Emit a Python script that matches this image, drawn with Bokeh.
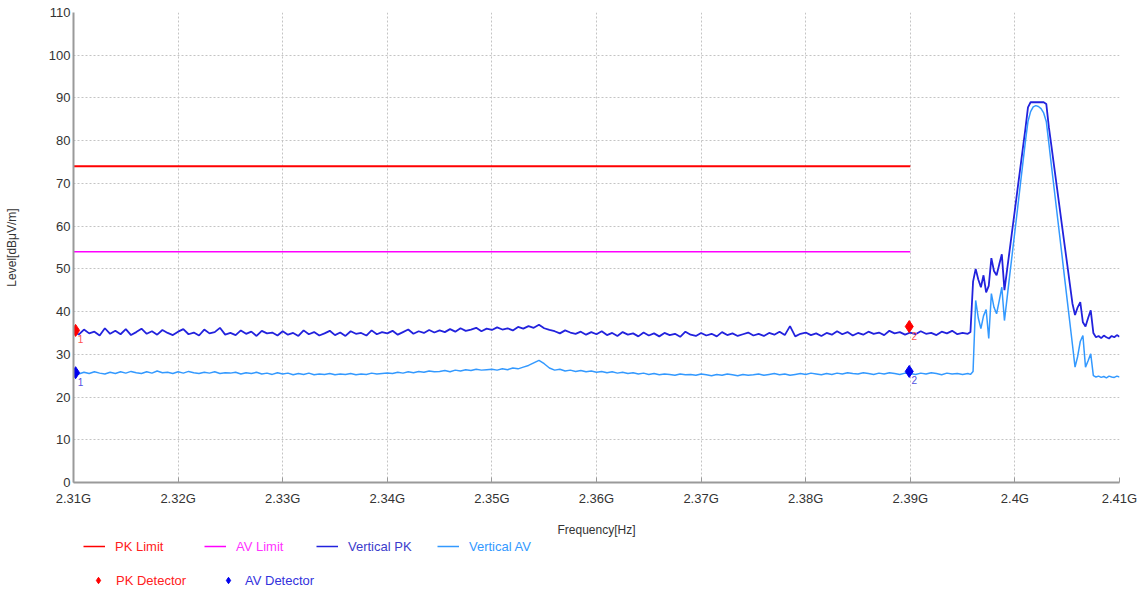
import numpy as np
from bokeh.plotting import figure
from bokeh.layouts import column
from bokeh.models import Range1d, FixedTicker, Legend, LegendItem, CustomJSTickFormatter
from bokeh.core.properties import value
from bokeh.embed import file_html
from bokeh.resources import INLINE

FONT = "Liberation Sans"

# ---------------- data ----------------
x_ticks = [2.31, 2.32, 2.33, 2.34, 2.35, 2.36, 2.37, 2.38, 2.39, 2.40, 2.41]
x_tick_labels = ["2.31G", "2.32G", "2.33G", "2.34G", "2.35G", "2.36G",
                 "2.37G", "2.38G", "2.39G", "2.4G", "2.41G"]
y_ticks = [0, 10, 20, 30, 40, 50, 60, 70, 80, 90, 100, 110]

sweep_start = 2.31      # GHz
coarse_step = 0.0005    # sweep points 2.31 .. 2.3955 GHz
fine_step = 0.00025     # sweep points 2.39575 .. 2.41 GHz

pk_coarse = [
    35.6, 34.6, 35.8, 34.9, 35.3, 34.4, 36.1, 34.8, 35.5, 34.7,
    35.9, 34.5, 35.2, 36.0, 34.8, 35.4, 34.6, 35.7, 35.0, 34.5,
    35.3, 35.9, 34.7, 35.1, 34.4, 35.8, 34.9, 35.2, 36.2, 34.6,
    35.0, 34.5, 35.6, 34.8, 35.3, 34.3, 35.5, 34.9, 35.1, 34.4,
    35.4, 34.6, 35.0, 34.3, 35.6, 34.7, 35.2, 34.4, 34.9, 35.5,
    34.5, 35.1, 34.3, 35.4, 34.8, 35.0, 34.4, 35.6, 34.7, 35.2,
    34.9, 35.5, 34.6, 35.2, 35.8, 34.8, 35.4, 35.0, 35.7, 35.1,
    35.6, 35.2, 35.9, 35.3, 36.1, 35.5, 35.8, 36.2, 35.4, 36.0,
    35.7, 36.3, 35.8, 36.1, 35.6, 36.4, 36.0, 36.6, 36.2, 36.9,
    36.1, 35.7, 35.4, 34.9, 35.6, 35.1, 34.8, 35.3, 34.6, 35.2,
    34.7, 35.4, 34.5, 35.0, 34.3, 35.2, 34.6, 34.9, 34.2, 35.1,
    34.4, 34.9, 34.2, 35.0, 34.5, 34.8, 34.1, 35.3, 34.6, 34.3,
    35.0, 34.4, 34.8, 34.2, 35.2, 34.5, 34.9, 34.3, 34.7, 35.1,
    34.4, 34.8, 34.3, 35.0, 34.6, 35.3, 34.5, 36.6, 34.2, 34.8,
    35.1, 34.5, 34.9, 34.3, 35.0, 34.6, 35.4, 34.7, 35.2, 34.4,
    35.0, 34.6, 35.3, 34.8, 35.1, 34.5, 35.5, 34.9, 35.2, 34.6,
    35.1, 34.7, 35.4, 34.8, 35.0, 34.5, 35.3, 34.9, 35.5, 34.7,
    35.0, 34.8,
]

av_coarse = [
    25.7, 25.4, 25.8, 25.5, 25.9, 25.6, 25.4, 25.8, 25.5, 25.9,
    25.6, 26.0, 25.7, 25.5, 25.9, 25.6, 26.1, 25.7, 25.8, 25.5,
    25.9, 25.6, 26.0, 25.7, 25.5, 25.8, 25.6, 25.9, 25.5, 25.7,
    25.6, 25.8, 25.4, 25.7, 25.5, 25.8, 25.4, 25.6, 25.3, 25.7,
    25.4, 25.6, 25.2, 25.5, 25.3, 25.6, 25.2, 25.4, 25.3, 25.5,
    25.2, 25.4, 25.3, 25.5, 25.2, 25.4, 25.3, 25.6, 25.4, 25.5,
    25.6, 25.5, 25.8, 25.6, 25.9, 25.7, 26.0, 25.8, 26.1, 25.9,
    26.0, 26.2, 25.9, 26.3, 26.1, 26.4, 26.2, 26.5, 26.3, 26.4,
    26.5, 26.3, 26.6, 26.4, 26.8, 26.6, 27.0, 27.4, 28.0, 28.6,
    27.8, 26.8, 26.3, 26.5, 26.1, 26.3, 26.0, 26.2, 25.9, 26.1,
    25.8, 26.0, 25.7, 25.9, 25.6, 25.8, 25.5, 25.7, 25.4, 25.6,
    25.3, 25.5, 25.2, 25.4, 25.3, 25.1, 25.4, 25.2, 25.3, 25.1,
    25.4, 25.2, 25.0, 25.3, 25.1, 25.4, 25.2, 25.0, 25.3, 25.1,
    25.2, 25.4, 25.1, 25.3, 25.5, 25.2, 25.4, 25.1, 25.3, 25.5,
    25.3, 25.6, 25.4, 25.2, 25.5, 25.3, 25.6, 25.4, 25.7, 25.5,
    25.4, 25.7, 25.5, 25.3, 25.6, 25.4, 25.7, 25.5, 25.3, 25.6,
    25.5, 25.3, 25.6, 25.4, 25.7, 25.5, 25.2, 25.6, 25.4, 25.5,
    25.3, 25.5,
]

pk_fine = [
    35.2, 47.0, 50.0, 47.5, 45.7, 48.5, 44.5, 46.0, 52.5, 49.5,
    48.5, 51.0, 53.4, 45.0, 49.7, 54.4, 59.1, 63.8, 68.6, 73.3,
    78.0, 82.7, 87.8, 89.0, 89.0, 89.0, 89.0, 89.0, 89.0, 88.6,
    83.1, 78.6, 74.0, 69.4, 64.8, 60.2, 55.6, 51.1, 46.5, 41.9,
    39.2, 41.0, 42.2, 37.5, 36.5, 38.5, 40.3, 35.0, 34.0, 34.3,
    33.8, 34.4, 34.0, 33.7, 34.3, 34.0, 34.5, 34.1,
]

av_fine = [
    25.3, 26.0, 42.6, 38.5, 36.0, 39.0, 40.5, 33.7, 44.2, 41.0,
    39.5, 42.5, 45.7, 37.9, 43.1, 48.4, 53.6, 58.8, 64.0, 69.3,
    74.5, 79.7, 84.5, 86.8, 87.9, 88.2, 88.0, 87.5, 86.5, 84.5,
    79.3, 74.0, 68.8, 63.6, 58.4, 53.2, 47.9, 42.7, 37.5, 32.3,
    27.0, 29.5, 33.0, 34.4, 27.0, 28.5, 30.1, 25.0, 24.7, 24.9,
    24.6, 24.8, 24.5, 24.9, 24.7, 24.6, 24.9, 24.7,
]

limit_freq = [2.31, 2.39]
pk_limit = [74, 74]
av_limit = [54, 54]

det_freq = [2.3102, 2.3899]
pk_det = [35.6, 36.5]
av_det = [25.7, 26.0]
det_labels = ["1", "2"]

coarse_freq = sweep_start + coarse_step * np.arange(len(pk_coarse))
fine_freq = coarse_freq[-1] + fine_step * np.arange(1, len(pk_fine) + 1)
freq = np.concatenate([coarse_freq, fine_freq])
pk = np.array(pk_coarse + pk_fine)
av = np.array(av_coarse + av_fine)

# ---------------- styles ----------------
C_PKL, C_AVL, C_PK, C_AV = "#ff0000", "#ff00ff", "#2222dd", "#3399ff"
C_PKD, C_AVD = "#ff0000", "#0000ee"

# ---------------- main figure ----------------
p = figure(width=1143, height=540,
           x_range=Range1d(2.31, 2.41), y_range=Range1d(0, 110),
           output_backend="svg", toolbar_location=None,
           min_border_left=73, min_border_right=24,
           min_border_top=12, min_border_bottom=58,
           background_fill_color="white", border_fill_color="white",
           outline_line_color=None)

p.xaxis.ticker = FixedTicker(ticks=x_ticks)
p.yaxis.ticker = FixedTicker(ticks=y_ticks)
p.xaxis.formatter = CustomJSTickFormatter(
    args=dict(tvals=x_ticks, tlabels=x_tick_labels),
    code="""
    let best = 0;
    for (let i = 0; i < tvals.length; i++) {
        if (Math.abs(tvals[i] - tick) < Math.abs(tvals[best] - tick)) best = i;
    }
    return tlabels[best];
    """)

p.grid.grid_line_color = "#c4c4c4"
p.grid.grid_line_dash = "2 2"
p.grid.grid_line_width = 1

for ax in (p.xaxis[0], p.yaxis[0]):
    ax.axis_line_color = "#9a9a9a"
    ax.axis_line_width = 2
    ax.major_label_text_font = FONT
    ax.major_label_text_font_size = "13px"
    ax.major_label_text_color = "#333333"
    ax.axis_label_text_font = FONT
    ax.axis_label_text_font_size = "12px"
    ax.axis_label_text_font_style = "normal"
    ax.axis_label_text_color = "#333333"
    ax.minor_tick_line_color = None

p.xaxis.major_tick_in = 5
p.xaxis.major_tick_out = 0
p.xaxis.major_tick_line_color = "#9a9a9a"
p.xaxis.major_label_standoff = 8
p.xaxis.axis_label = "Frequency[Hz]"
p.xaxis.axis_label_standoff = 14

p.yaxis.major_tick_in = 0
p.yaxis.major_tick_out = 0
p.yaxis.major_label_standoff = 3
p.yaxis.axis_label = "Level[dBμV/m]"
p.yaxis.axis_label_standoff = 27

p.line(limit_freq, pk_limit, line_color=C_PKL, line_width=2)
p.line(limit_freq, av_limit, line_color=C_AVL, line_width=1.5)
p.line(freq, pk, line_color=C_PK, line_width=1.8)
p.line(freq, av, line_color=C_AV, line_width=1.5)
p.scatter(det_freq, pk_det, marker="diamond", size=12,
          fill_color=C_PKD, line_color=C_PKD)
p.scatter(det_freq, av_det, marker="diamond", size=12,
          fill_color=C_AVD, line_color=C_AVD)

p.text(x=det_freq, y=pk_det, text=det_labels, x_offset=5, y_offset=9,
       text_font=value(FONT), text_font_size="10px", text_color="#ff5050",
       text_align="center", text_baseline="middle")
p.text(x=det_freq, y=av_det, text=det_labels, x_offset=5, y_offset=9,
       text_font=value(FONT), text_font_size="10px", text_color="#5050e0",
       text_align="center", text_baseline="middle")

# ---------------- legend strip ----------------
lg_fig = figure(width=1143, height=53, output_backend="svg", toolbar_location=None,
                x_range=Range1d(0, 1), y_range=Range1d(0, 1),
                x_axis_location=None, y_axis_location=None,
                min_border=0, outline_line_color=None,
                background_fill_color="white", border_fill_color="white")
lg_fig.grid.visible = False

nan = np.array([np.nan])  # legend proxies: one invisible point each
g_pkl = lg_fig.line(x=nan, y=nan, line_color=C_PKL, line_width=1.5)
g_avl = lg_fig.line(x=nan, y=nan, line_color=C_AVL, line_width=1.5)
g_pk = lg_fig.line(x=nan, y=nan, line_color=C_PK, line_width=1.5)
g_av = lg_fig.line(x=nan, y=nan, line_color=C_AV, line_width=1.5)
g_pkd = lg_fig.scatter(x=nan, y=nan, marker="diamond", size=9,
                       fill_color=C_PKD, line_color=C_PKD)
g_avd = lg_fig.scatter(x=nan, y=nan, marker="diamond", size=9,
                       fill_color=C_AVD, line_color=C_AVD)


def add_leg(label, rend, color, x, y, glyph_w=22, standoff=10):
    lg = Legend(items=[LegendItem(label=label, renderers=[rend])],
                location=(x, y), orientation="horizontal",
                padding=0, margin=0, spacing=0,
                glyph_width=glyph_w, glyph_height=16, label_height=16,
                label_standoff=standoff,
                label_text_font=FONT, label_text_font_size="13px",
                label_text_color=color,
                background_fill_alpha=0, border_line_alpha=0)
    lg_fig.add_layout(lg, "center")


add_leg("PK Limit", g_pkl, "#ff2020", 10, 39)
add_leg("AV Limit", g_avl, "#ff33ff", 131, 39)
add_leg("Vertical PK", g_pk, "#3c3ccc", 243, 39)
add_leg("Vertical AV", g_av, "#3399ff", 364, 39)
add_leg("PK Detector", g_pkd, "#ff2020", 14, 5, standoff=7)
add_leg("AV Detector", g_avd, "#3333dd", 144, 5, standoff=6)

open("out.html", "w").write(file_html(column(p, lg_fig, spacing=0), INLINE))
